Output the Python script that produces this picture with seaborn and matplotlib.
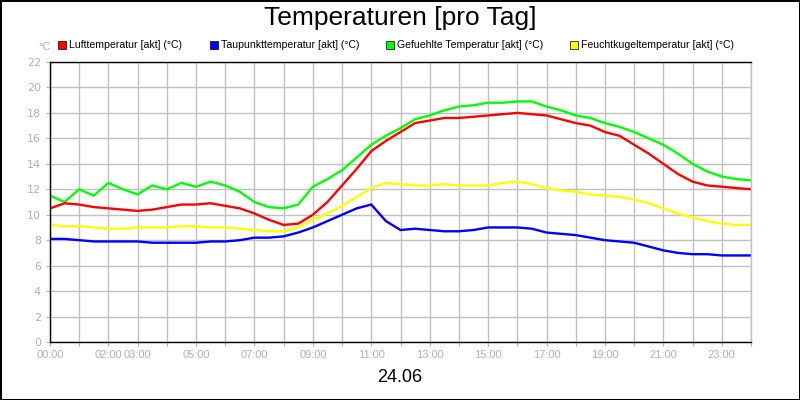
import matplotlib
matplotlib.use("Agg")
import matplotlib.pyplot as plt
import seaborn as sns
import pandas as pd

hours = [i * 0.5 for i in range(49)]
luft = [10.5, 10.9, 10.8, 10.6, 10.5, 10.4, 10.3, 10.4, 10.6, 10.8, 10.8, 10.9, 10.7, 10.5, 10.1, 9.6,
        9.2, 9.3, 10.0, 11.0, 12.3, 13.6, 15.0, 15.8, 16.5, 17.2, 17.4, 17.6, 17.6, 17.7, 17.8, 17.9,
        18.0, 17.9, 17.8, 17.5, 17.2, 17.0, 16.5, 16.2, 15.5, 14.8, 14.0, 13.2, 12.6, 12.3, 12.2, 12.1, 12.0]
gefuehlt = [11.5, 11.0, 12.0, 11.5, 12.5, 12.0, 11.6, 12.3, 12.0, 12.5, 12.2, 12.6, 12.3, 11.8, 11.0, 10.6,
            10.5, 10.8, 12.2, 12.8, 13.5, 14.5, 15.5, 16.2, 16.8, 17.5, 17.8, 18.2, 18.5, 18.6, 18.8, 18.8,
            18.9, 18.9, 18.5, 18.2, 17.8, 17.6, 17.2, 16.9, 16.5, 16.0, 15.5, 14.8, 14.0, 13.4, 13.0, 12.8, 12.7]
feucht = [9.2, 9.1, 9.1, 9.0, 8.9, 8.9, 9.0, 9.0, 9.0, 9.1, 9.1, 9.0, 9.0, 8.9, 8.8, 8.7,
          8.7, 9.0, 9.6, 10.1, 10.7, 11.4, 12.1, 12.5, 12.4, 12.3, 12.3, 12.4, 12.3, 12.3, 12.3, 12.5,
          12.6, 12.4, 12.1, 11.9, 11.8, 11.6, 11.5, 11.4, 11.2, 10.9, 10.5, 10.1, 9.8, 9.5, 9.3, 9.2, 9.2]
taupunkt = [8.1, 8.1, 8.0, 7.9, 7.9, 7.9, 7.9, 7.8, 7.8, 7.8, 7.8, 7.9, 7.9, 8.0, 8.2, 8.2,
            8.3, 8.6, 9.0, 9.5, 10.0, 10.5, 10.8, 9.5, 8.8, 8.9, 8.8, 8.7, 8.7, 8.8, 9.0, 9.0,
            9.0, 8.9, 8.6, 8.5, 8.4, 8.2, 8.0, 7.9, 7.8, 7.5, 7.2, 7.0, 6.9, 6.9, 6.8, 6.8, 6.8]

names = ["Lufttemperatur [akt] (°C)", "Taupunkttemperatur [akt] (°C)",
         "Gefuehlte Temperatur [akt] (°C)", "Feuchtkugeltemperatur [akt] (°C)"]
colors = ["#ff0000", "#0000ff", "#00ff00", "#ffff00"]
tick_pos = [0, 2, 3, 5, 7, 9, 11, 13, 15, 17, 19, 21, 23]
tick_lbl = ["00:00", "02:00", "03:00", "05:00", "07:00", "09:00", "11:00", "13:00",
            "15:00", "17:00", "19:00", "21:00", "23:00"]

df = pd.DataFrame({"h": hours, names[0]: luft, names[1]: taupunkt,
                   names[2]: gefuehlt, names[3]: feucht})
long = df.melt("h", var_name="s", value_name="v")

fig = plt.figure(figsize=(8, 4), dpi=100)
fig.patch.set_edgecolor("black"); fig.patch.set_linewidth(2)
ax = fig.add_axes([50/800, 1-342/400, 701/800, 280/400])
sns.lineplot(data=long, x="h", y="v", hue="s", hue_order=[names[3], names[1], names[2], names[0]],
             palette=dict(zip(names, colors)), linewidth=1.7, legend=False, ax=ax)
ax.set_xlim(0, 24); ax.set_ylim(0, 22)
ax.set_xticks(range(25))
ax.set_xticklabels([""] * 25)
for p, l in zip(tick_pos, tick_lbl):
    ax.text(p, -0.6, l, ha="center", va="top", fontsize=8, color="#b0b0b0", fontfamily="Liberation Sans")
ax.set_yticks(range(0, 23, 2))
ax.tick_params(axis="y", labelsize=8, labelcolor="#b0b0b0", color="#b0b0b0", length=3)
ax.tick_params(axis="x", color="#b0b0b0", length=3)
ax.grid(True, color="#c0c0c0", linewidth=1)
ax.set_axisbelow(True)
ax.set_xlabel(""); ax.set_ylabel("")
for s in ax.spines.values():
    s.set_color("black"); s.set_linewidth(1)
ax.spines["right"].set_color("#c0c0c0")
fig.text(0.5, 1-18/400, "Temperaturen [pro Tag]", ha="center", va="center", fontsize=19, fontfamily="Liberation Sans")
fig.text(0.5, 1-378/400, "24.06", ha="center", va="center", fontsize=13, fontfamily="Liberation Sans")
fig.text(38/800, 1-47/400, "°C", ha="left", va="center", fontsize=8, color="#b0b0b0", fontfamily="Liberation Sans")
xs = [58, 210, 386, 570]
for x, n, c in zip(xs, names, colors):
    fig.patches.append(plt.Rectangle((x/800, 1-49/400), 8/800, 8/400, transform=fig.transFigure,
                                     facecolor=c, edgecolor="black", linewidth=0.5))
    fig.text((x+11)/800, 1-45/400, n, ha="left", va="center", fontsize=7.6, fontfamily="Liberation Sans")
fig.savefig("out.png", dpi=100, edgecolor=fig.get_edgecolor())
